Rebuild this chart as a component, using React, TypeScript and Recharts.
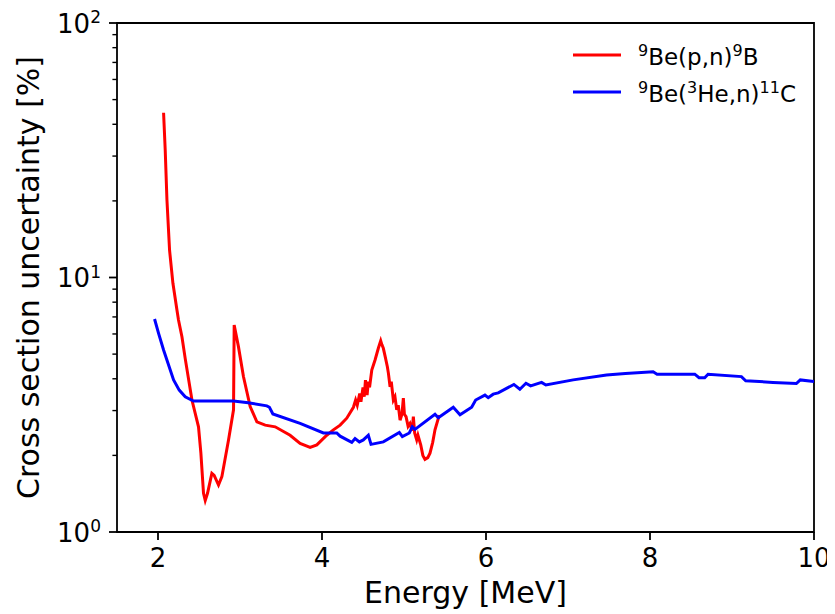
import React from 'react';
import { LineChart, Line, XAxis, YAxis, Legend, ReferenceArea } from 'recharts';

const FONT = "'DejaVu Sans', sans-serif";

// 9Be(3He,n)11C uncertainty curve
const heEnergy = [1.958, 2.007, 2.068, 2.19, 2.259, 2.332, 2.433, 2.6, 2.921, 3.1, 3.327, 3.359, 3.401, 3.733, 4.017, 4.18, 4.221, 4.363, 4.403, 4.456, 4.504, 4.565, 4.598, 4.748, 4.943, 4.98, 5.065, 5.101, 5.134, 5.378, 5.418, 5.601, 5.683, 5.825, 5.874, 5.987, 6.027, 6.088, 6.149, 6.34, 6.413, 6.487, 6.544, 6.678, 6.73, 7.063, 7.47, 7.7, 8.038, 8.086, 8.546, 8.598, 8.667, 8.708, 9.115, 9.167, 9.5, 9.785, 9.833, 10.0];
const heUnc = [6.87, 6.03, 5.19, 3.96, 3.61, 3.4, 3.27, 3.27, 3.27, 3.22, 3.13, 3.09, 2.91, 2.67, 2.45, 2.45, 2.38, 2.25, 2.33, 2.26, 2.3, 2.4, 2.21, 2.26, 2.46, 2.37, 2.45, 2.59, 2.53, 2.9, 2.81, 3.09, 2.89, 3.09, 3.3, 3.45, 3.37, 3.48, 3.52, 3.8, 3.64, 3.84, 3.75, 3.87, 3.78, 3.96, 4.14, 4.2, 4.26, 4.17, 4.17, 4.04, 4.04, 4.17, 4.08, 3.93, 3.87, 3.83, 3.96, 3.9];

// 9Be(p,n)9B uncertainty curve
const pnEnergy = [2.068, 2.088, 2.109, 2.141, 2.182, 2.231, 2.25, 2.292, 2.332, 2.414, 2.494, 2.523, 2.555, 2.576, 2.604, 2.657, 2.685, 2.738, 2.779, 2.86, 2.921, 2.929, 2.981, 3.042, 3.124, 3.206, 3.307, 3.429, 3.611, 3.733, 3.855, 3.937, 4.058, 4.139, 4.221, 4.302, 4.383, 4.41, 4.43, 4.46, 4.475, 4.5, 4.515, 4.53, 4.55, 4.565, 4.58, 4.607, 4.647, 4.687, 4.716, 4.73, 4.748, 4.77, 4.797, 4.81, 4.83, 4.845, 4.87, 4.89, 4.911, 4.93, 4.952, 4.975, 4.992, 5.005, 5.025, 5.05, 5.073, 5.1, 5.114, 5.13, 5.155, 5.17, 5.204, 5.23, 5.256, 5.29, 5.317, 5.35, 5.378, 5.43];
const pnUnc = [44.4, 31.7, 20.2, 12.8, 9.49, 7.45, 6.81, 5.85, 4.8, 3.3, 2.59, 2.04, 1.42, 1.33, 1.42, 1.7, 1.67, 1.53, 1.65, 2.3, 3.02, 6.51, 5.35, 4.08, 3.11, 2.71, 2.63, 2.59, 2.4, 2.23, 2.15, 2.2, 2.4, 2.52, 2.63, 2.8, 3.09, 3.3, 3.15, 3.5, 3.25, 3.7, 3.4, 3.95, 3.45, 3.9, 3.7, 4.33, 4.74, 5.27, 5.64, 5.45, 5.27, 4.9, 4.46, 4.2, 3.72, 3.9, 3.3, 3.4, 3.02, 3.15, 2.75, 2.9, 3.36, 2.9, 2.84, 2.6, 2.67, 2.5, 2.84, 2.45, 2.3, 2.4, 2.2, 2.0, 1.93, 1.96, 2.04, 2.25, 2.52, 2.88];

const xTicks = [2, 4, 6, 8, 10];
const yTicks = [1, 2, 3, 4, 5, 6, 7, 8, 9, 10, 20, 30, 40, 50, 60, 70, 80, 90, 100];

const pnData = pnEnergy.map((e, i) => ({ e, u: pnUnc[i] }));
const heData = heEnergy.map((e, i) => ({ e, u: heUnc[i] }));

const TICK_FS = 26;
const LABEL_FS = 30;
const LEG_FS = 23;

const XTick = (props: any) => {
  const { x, y, payload } = props;
  return (
    <g>
      <line x1={x} x2={x} y1={y} y2={y + 8} stroke="#000" strokeWidth={1.8} />
      <text x={x} y={y + 35} textAnchor="middle" fontSize={TICK_FS} fontFamily={FONT} fill="#000">
        {payload.value}
      </text>
    </g>
  );
};

const YTick = (props: any) => {
  const { x, y, payload } = props;
  const v = payload.value;
  const exp = Math.round(Math.log10(v));
  const major = Math.abs(Math.pow(10, exp) - v) < 1e-9;
  return (
    <g>
      <line x1={x} x2={x - (major ? 8 : 4.6)} y1={y} y2={y} stroke="#000" strokeWidth={major ? 1.8 : 1.4} />
      {major && (
        <text x={x - 16} y={y + 9.5} textAnchor="end" fontSize={TICK_FS} fontFamily={FONT} fill="#000">
          10
          <tspan fontSize={17} dy={-9.5}>{exp}</tspan>
        </text>
      )}
    </g>
  );
};

const XLabel = (props: any) => {
  const vb = props.viewBox || {};
  return (
    <text x={vb.x + vb.width / 2} y={vb.y + 71} textAnchor="middle" fontSize={LABEL_FS} fontFamily={FONT} fill="#000">
      Energy [MeV]
    </text>
  );
};

const YLabel = (props: any) => {
  const vb = props.viewBox || {};
  const cx = 31;
  const cy = vb.y + vb.height / 2;
  return (
    <text x={cx} y={cy} transform={`rotate(-90 ${cx} ${cy})`} textAnchor="middle" fontSize={LABEL_FS} fontFamily={FONT} fill="#000">
      Cross section uncertainty [%]
    </text>
  );
};

const renderLegend = () => (
  <svg width={262} height={80} style={{ display: 'block' }}>
    <line x1={5} x2={53} y1={22} y2={22} stroke="#ff0000" strokeWidth={3} />
    <text x={70} y={32} fontSize={LEG_FS} fontFamily={FONT} fill="#000">
      <tspan fontSize={16} dy={-9}>9</tspan>
      <tspan dy={9}>Be(p,n)</tspan>
      <tspan fontSize={16} dy={-9}>9</tspan>
      <tspan dy={9}>B</tspan>
    </text>
    <line x1={5} x2={53} y1={59} y2={59} stroke="#0000ff" strokeWidth={3} />
    <text x={70} y={69} fontSize={LEG_FS} fontFamily={FONT} fill="#000">
      <tspan fontSize={16} dy={-9}>9</tspan>
      <tspan dy={9}>Be(</tspan>
      <tspan fontSize={16} dy={-9}>3</tspan>
      <tspan dy={9}>He,n)</tspan>
      <tspan fontSize={16} dy={-9}>11</tspan>
      <tspan dy={9}>C</tspan>
    </text>
  </svg>
);

export default function App() {
  return (
    <div style={{ width: 827, height: 606, fontFamily: FONT }}>
      <LineChart width={827} height={606} margin={{ top: 15, right: 21, bottom: 0, left: 0 }} style={{ overflow: 'visible' }}>
        <XAxis
          dataKey="e"
          type="number"
          domain={[1.5, 10]}
          ticks={xTicks}
          allowDataOverflow
          axisLine={false}
          tickLine={false}
          tickSize={0}
          tickMargin={0}
          height={82}
          interval={0}
          tick={<XTick />}
          label={{ content: XLabel }}
        />
        <YAxis
          dataKey="u"
          type="number"
          scale="log"
          domain={[1, 100]}
          ticks={yTicks}
          allowDataOverflow
          axisLine={false}
          tickLine={false}
          tickSize={0}
          tickMargin={0}
          width={109}
          interval={0}
          tick={<YTick />}
          label={{ content: YLabel }}
        />
        <Line data={pnData} dataKey="u" stroke="#ff0000" strokeWidth={3} dot={false} isAnimationActive={false} type="linear" />
        <Line data={heData} dataKey="u" stroke="#0000ff" strokeWidth={3} dot={false} isAnimationActive={false} type="linear" />
        <ReferenceArea x1={1.5} x2={10} y1={1} y2={100} fill="none" fillOpacity={0} stroke="#000" strokeWidth={1.8} ifOverflow="visible" />
        <Legend
          layout="vertical"
          align="center"
          verticalAlign="middle"
          content={renderLegend}
          wrapperStyle={{ left: 560, top: 25, width: 262, height: 80 }}
        />
      </LineChart>
    </div>
  );
}
